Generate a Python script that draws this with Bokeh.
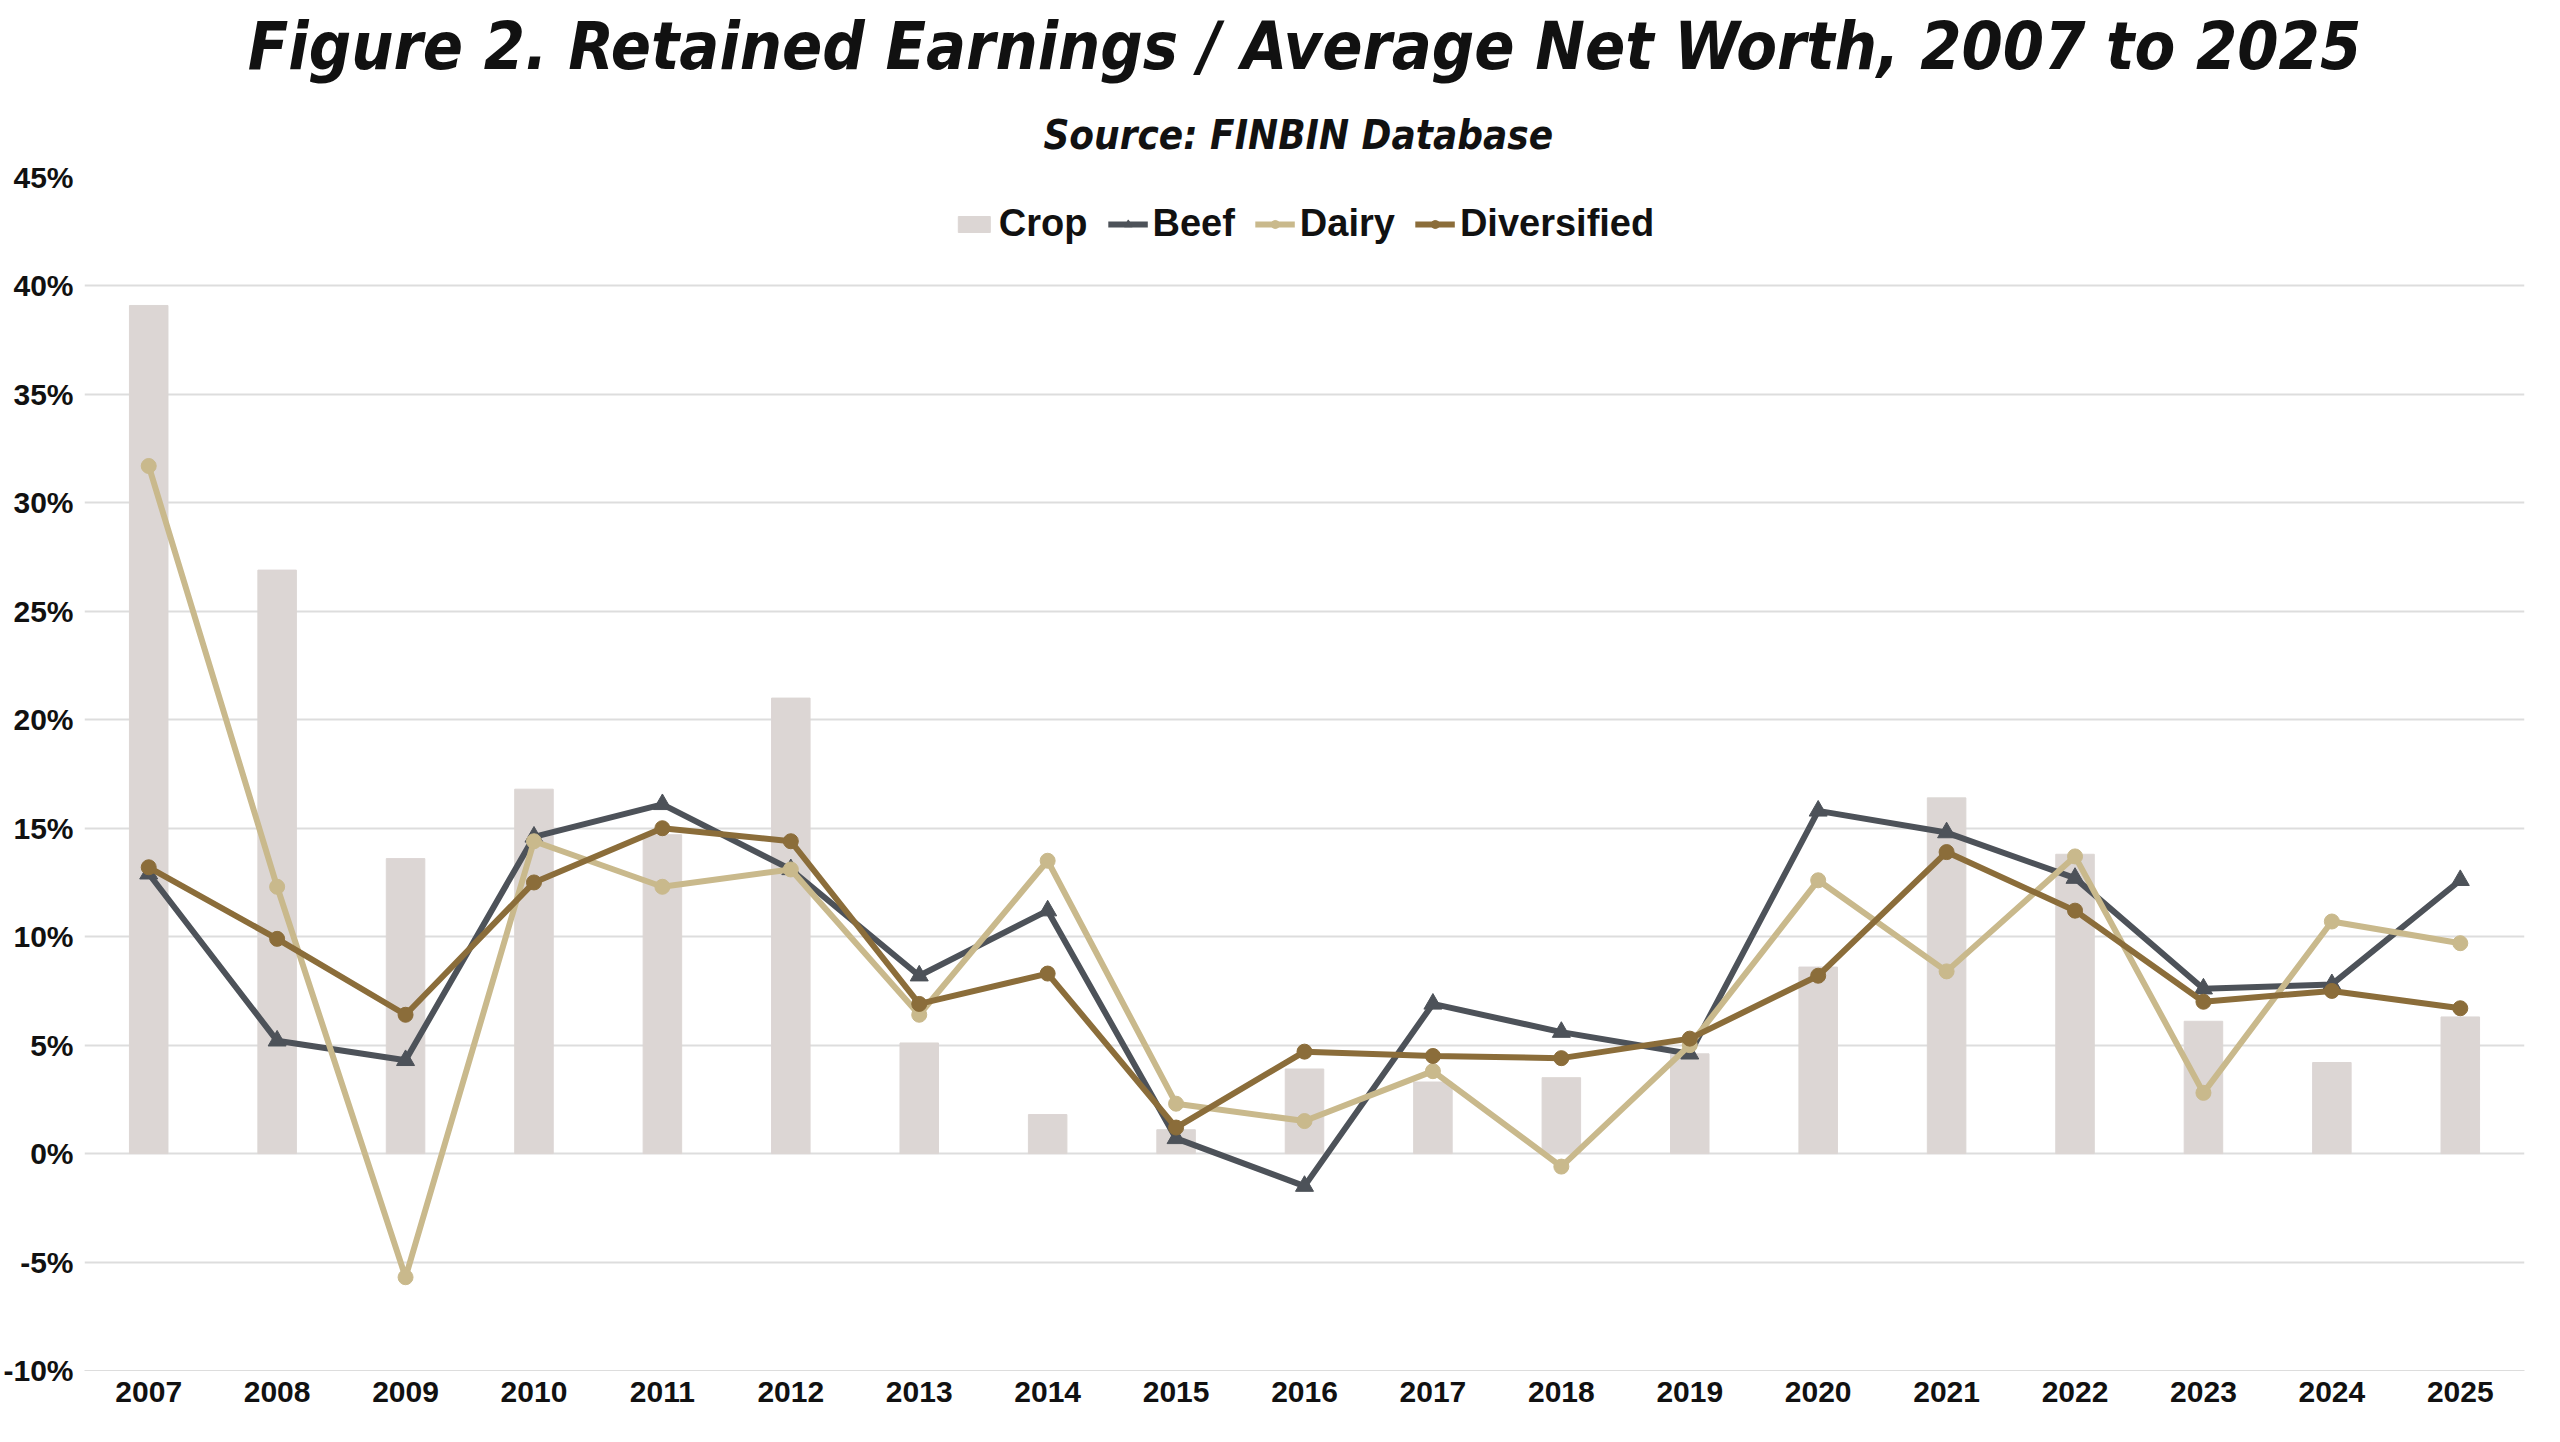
from bokeh.plotting import figure
from bokeh.models import Title, PrintfTickFormatter, FixedTicker, Legend, LegendItem, Range1d
from bokeh.embed import file_html
from bokeh.resources import INLINE

years = [str(y) for y in range(2007, 2026)]
crop = [39.1, 26.9, 13.6, 16.8, 14.7, 21.0, 5.1, 1.8, 1.1, 3.9, 3.3, 3.5, 4.6, 8.6, 16.4, 13.8, 6.1, 4.2, 6.3]
beef = [12.9, 5.2, 4.3, 14.6, 16.1, 13.1, 8.2, 11.2, 0.7, -1.5, 6.9, 5.6, 4.6, 15.8, 14.8, 12.7, 7.6, 7.8, 12.6]
dairy = [31.7, 12.3, -5.7, 14.4, 12.3, 13.1, 6.4, 13.5, 2.3, 1.5, 3.8, -0.6, 5.0, 12.6, 8.4, 13.7, 2.8, 10.7, 9.7]
divers = [13.2, 9.9, 6.4, 12.5, 15.0, 14.4, 6.9, 8.3, 1.2, 4.7, 4.5, 4.4, 5.3, 8.2, 13.9, 11.2, 7.0, 7.5, 6.7]

FONT = "Liberation Sans"
TFONT = "DejaVu Sans Condensed"
p = figure(x_range=years, width=2544, height=1410, output_backend="svg", toolbar_location=None,
           y_range=Range1d(-10, 45), min_border_left=20, min_border_right=20, min_border_bottom=40,
           min_border_top=10)
p.add_layout(Title(text="Source:  FINBIN Database", align="center", text_font=TFONT,
                   text_font_style="bold italic", text_font_size="40px", text_color="#111111",
                   standoff=40), "above")
p.add_layout(Title(text="Figure 2. Retained Earnings / Average Net Worth, 2007 to 2025", align="center",
                   text_font=TFONT, text_font_style="bold italic", text_font_size="66px",
                   text_color="#111111", standoff=10), "above")
p.outline_line_color = None
p.xgrid.grid_line_color = None
p.ygrid.grid_line_color = "#dddddd"
p.ygrid.grid_line_width = 2
p.yaxis.ticker = FixedTicker(ticks=list(range(-10, 50, 5)))
p.yaxis.formatter = PrintfTickFormatter(format="%d%%")
for ax in (p.xaxis, p.yaxis):
    ax.axis_line_color = None
    ax.major_tick_line_color = None
    ax.minor_tick_line_color = None
    ax.major_label_text_font = FONT
    ax.major_label_text_font_style = "bold"
    ax.major_label_text_font_size = "30px"
    ax.major_label_text_color = "#111111"
p.xaxis.axis_line_color = "#dddddd"

b = p.vbar(x=years, top=crop, width=0.3, color="#dcd6d4")
lb = p.line(years, beef, color="#4d5259", line_width=6)
mb = p.scatter(years, beef, marker="triangle", size=18, color="#4d5259")
ld = p.line(years, dairy, color="#c9b98c", line_width=6)
md = p.scatter(years, dairy, size=15, color="#c9b98c")
lv = p.line(years, divers, color="#8b6d3a", line_width=6)
mv = p.scatter(years, divers, size=15, color="#8b6d3a")

leg = Legend(items=[LegendItem(label="Crop", renderers=[b]), LegendItem(label="Beef", renderers=[lb, mb]),
                    LegendItem(label="Dairy", renderers=[ld, md]), LegendItem(label="Diversified", renderers=[lv, mv])],
             orientation="horizontal", location="top_center", border_line_color=None, background_fill_alpha=0,
             label_text_font=FONT, label_text_font_style="bold", label_text_font_size="38px",
             label_text_color="#111111", glyph_width=40, spacing=20, margin=25)
p.add_layout(leg)
open("out.html", "w").write(file_html(p, INLINE))
